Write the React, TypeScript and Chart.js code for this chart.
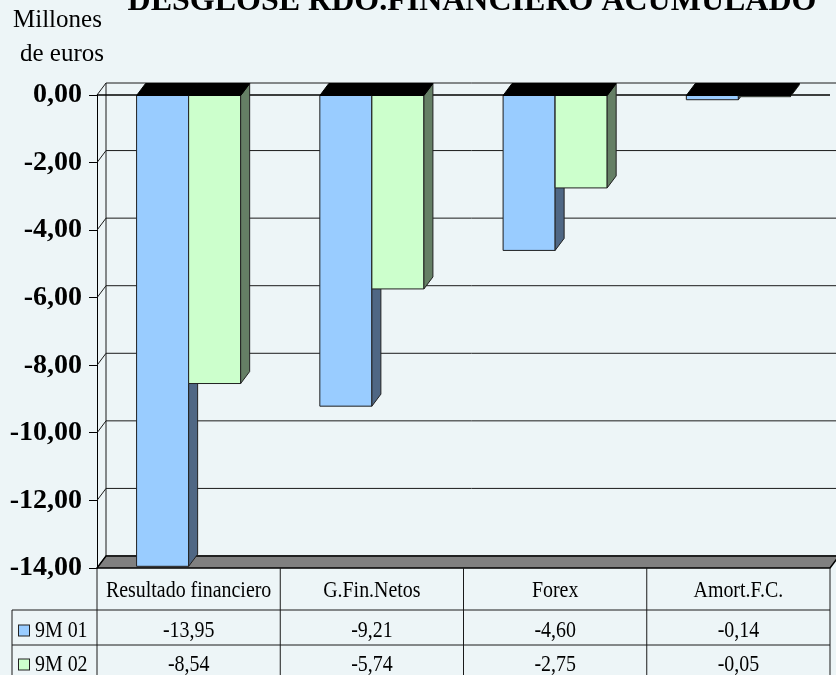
import React, { useEffect, useRef } from 'react';
import { Chart, registerables } from 'chart.js';

Chart.register(...registerables);

// ---- data ----
const categories = ['Resultado financiero', 'G.Fin.Netos', 'Forex', 'Amort.F.C.'];
const seriesNames = ['9M 01', '9M 02'];
const values9M01 = [-13.95, -9.21, -4.6, -0.14];
const values9M02 = [-8.54, -5.74, -2.75, -0.05];
const yMin = -14;
const yMax = 0;
const yStep = 2;
const titleText = 'DESGLOSE RDO.FINANCIERO ACUMULADO';
const unitLines = ['Millones', 'de euros'];

// ---- styles ----
const W = 836;
const H = 675;
const DX = 9;
const DY = -12;
const BG = '#EDF5F7';
const FRONT = ['#99CCFF', '#CCFFCC'];
const SIDE = ['#4F6784', '#657F65'];
const SERIF = '"Liberation Serif", "Times New Roman", serif';
const fmt = (v: number) => v.toFixed(2).replace('.', ',');

function condensedText(ctx: CanvasRenderingContext2D, s: string, x: number, y: number, align: CanvasTextAlign, sx: number) {
  ctx.save();
  ctx.translate(x, y);
  ctx.scale(sx, 1);
  ctx.textAlign = align;
  ctx.fillText(s, 0, 0);
  ctx.restore();
}

function poly(ctx: CanvasRenderingContext2D, pts: number[][], fill: string | null, stroke: string | null, lw = 1) {
  ctx.beginPath();
  ctx.moveTo(pts[0][0], pts[0][1]);
  for (let i = 1; i < pts.length; i++) ctx.lineTo(pts[i][0], pts[i][1]);
  ctx.closePath();
  if (fill) {
    ctx.fillStyle = fill;
    ctx.fill();
  }
  if (stroke) {
    ctx.strokeStyle = stroke;
    ctx.lineWidth = lw;
    ctx.stroke();
  }
}

function line(ctx: CanvasRenderingContext2D, x1: number, y1: number, x2: number, y2: number) {
  ctx.beginPath();
  ctx.moveTo(x1, y1);
  ctx.lineTo(x2, y2);
  ctx.stroke();
}

const threeDPlugin = {
  id: 'threeD',
  beforeDraw(chart: any) {
    const ctx = chart.ctx as CanvasRenderingContext2D;
    ctx.save();
    ctx.fillStyle = BG;
    ctx.fillRect(0, 0, chart.width, chart.height);
    ctx.restore();
  },
  beforeDatasetsDraw(chart: any) {
    const ctx = chart.ctx as CanvasRenderingContext2D;
    const a = chart.chartArea;
    const y = chart.scales.y;
    ctx.save();
    ctx.strokeStyle = '#1a1a1a';
    ctx.lineWidth = 1;
    for (let v = yMax; v >= yMin; v -= yStep) {
      const py = y.getPixelForValue(v);
      line(ctx, a.left + DX, py + DY, a.right + DX + 4, py + DY);
      line(ctx, a.left, py, a.left + DX, py + DY);
    }
    const y0 = y.getPixelForValue(yMax);
    const yb = y.getPixelForValue(yMin);
    line(ctx, a.left + DX, y0 + DY, a.left + DX, yb + DY);
    // floor
    poly(ctx, [[a.left, yb], [a.right, yb], [a.right + DX, yb + DY], [a.left + DX, yb + DY]], '#808080', '#000', 1.5);
    // front zero line
    ctx.strokeStyle = '#000';
    ctx.lineWidth = 1.5;
    line(ctx, a.left, y.getPixelForValue(0), a.right, y.getPixelForValue(0));
    ctx.restore();
  },
  afterDatasetsDraw(chart: any) {
    const ctx = chart.ctx as CanvasRenderingContext2D;
    ctx.save();
    chart.data.datasets.forEach((_: any, i: number) => {
      const meta = chart.getDatasetMeta(i);
      for (const el of meta.data) {
        const p = el.getProps(['x', 'y', 'base', 'width'], true);
        const l = p.x - p.width / 2;
        const r = p.x + p.width / 2;
        const top = Math.min(p.y, p.base);
        const bot = Math.max(p.y, p.base);
        // front face
        poly(ctx, [[l, top], [r, top], [r, bot], [l, bot]], FRONT[i], '#222', 1);
        // side face
        poly(ctx, [[r, top], [r, bot], [r + DX, bot + DY], [r + DX, top + DY]], SIDE[i], '#222', 1);
        // top face
        poly(ctx, [[l, top], [r, top], [r + DX, top + DY], [l + DX, top + DY]], '#000', '#000', 1);
      }
    });
    ctx.restore();
  },
  afterDraw(chart: any) {
    const ctx = chart.ctx as CanvasRenderingContext2D;
    const a = chart.chartArea;
    const x = chart.scales.x;
    const y = chart.scales.y;
    const yb = y.getPixelForValue(yMin);
    const n = categories.length;
    const cw = (a.right - a.left) / n;
    const rowH = [42, 35, 35];
    const r0 = yb;
    const r1 = r0 + rowH[0];
    const r2 = r1 + rowH[1];
    const r3 = r2 + rowH[2];
    const legLeft = 12;
    ctx.save();
    ctx.strokeStyle = '#1a1a1a';
    ctx.lineWidth = 1;
    line(ctx, legLeft, r1, a.right, r1);
    line(ctx, legLeft, r2, a.right, r2);
    line(ctx, legLeft, r3, a.right, r3);
    line(ctx, legLeft, r1, legLeft, r3);
    for (let k = 0; k <= n; k++) {
      const px = k < n ? x.getPixelForTick(k) - cw / 2 : x.getPixelForTick(n - 1) + cw / 2;
      line(ctx, px, r0, px, r3);
    }
    ctx.fillStyle = '#000';
    ctx.font = `24px ${SERIF}`;
    ctx.textBaseline = 'middle';
    categories.forEach((c, k) => {
      condensedText(ctx, c, x.getPixelForTick(k), (r0 + r1) / 2 + 2, 'center', 0.83);
    });
    const rows = [values9M01, values9M02];
    rows.forEach((vals, ri) => {
      const cy = ri === 0 ? (r1 + r2) / 2 + 3 : (r2 + r3) / 2 + 2;
      vals.forEach((v, k) => {
        condensedText(ctx, fmt(v), x.getPixelForTick(k), cy, 'center', 0.83);
      });
      ctx.fillStyle = FRONT[ri];
      ctx.fillRect(18.5, cy - 5.5, 11, 11);
      ctx.strokeStyle = '#222';
      ctx.strokeRect(18.5, cy - 5.5, 11, 11);
      ctx.fillStyle = '#000';
      condensedText(ctx, seriesNames[ri], 35, cy, 'left', 0.83);
    });
    ctx.font = `25px ${SERIF}`;
    ctx.textAlign = 'left';
    ctx.fillText(unitLines[0], 13, 20);
    ctx.fillText(unitLines[1], 20, 54);
    ctx.font = `bold 30px ${SERIF}`;
    const w = ctx.measureText(titleText).width;
    const size = (30 * 689) / w;
    ctx.font = `bold ${size}px ${SERIF}`;
    ctx.textBaseline = 'alphabetic';
    ctx.textAlign = 'center';
    ctx.fillText(titleText, 472, 10);
    ctx.restore();
  },
};

export default function App() {
  const ref = useRef<HTMLCanvasElement | null>(null);
  useEffect(() => {
    if (!ref.current) return;
    const chart = new Chart(ref.current, {
      type: 'bar',
      data: {
        labels: categories,
        datasets: [
          {
            label: seriesNames[0],
            data: values9M01,
            backgroundColor: FRONT[0],
            borderColor: '#222',
            borderWidth: 1,
            borderSkipped: false,
          },
          {
            label: seriesNames[1],
            data: values9M02,
            backgroundColor: FRONT[1],
            borderColor: '#222',
            borderWidth: 1,
            borderSkipped: false,
          },
        ],
      },
      options: {
        responsive: false,
        animation: false,
        devicePixelRatio: 1,
        layout: { padding: { top: 95, bottom: 107, right: 6, left: 0 } },
        plugins: {
          legend: { display: false },
          tooltip: { enabled: false },
          title: { display: false },
        },
        datasets: {
          bar: { categoryPercentage: 0.568, barPercentage: 1 },
        },
        scales: {
          x: { display: false },
          y: {
            min: yMin,
            max: yMax,
            afterFit: (s: any) => {
              s.width = 97;
            },
            ticks: {
              stepSize: yStep,
              padding: 7,
              color: '#000',
              font: { family: SERIF, size: 28, weight: 'bold' },
              callback: (v: any) => fmt(Number(v)),
            },
            grid: {
              drawOnChartArea: false,
              drawTicks: true,
              tickLength: 8,
              color: '#000',
            },
            border: { display: true, color: '#000', width: 1 },
          },
        },
      },
      plugins: [threeDPlugin],
    } as any);
    return () => chart.destroy();
  }, []);
  return (
    <div style={{ position: 'absolute', left: 0, top: 0, width: W, height: H, background: BG }}>
      <canvas ref={ref} width={W} height={H} style={{ display: 'block' }} />
    </div>
  );
}
